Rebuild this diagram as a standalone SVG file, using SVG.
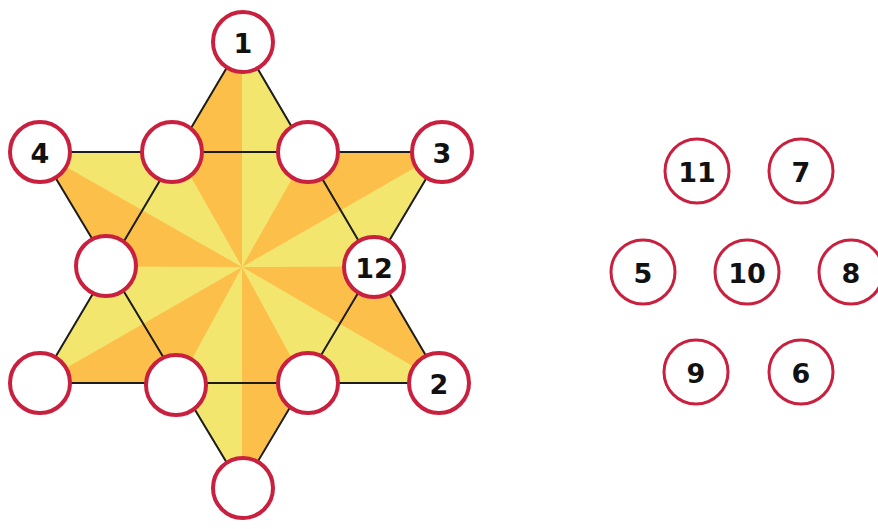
<svg xmlns="http://www.w3.org/2000/svg" width="878" height="529" viewBox="0 0 878 529">
<style>
.y{fill:#f3e66f}
.o{fill:#fcc04a}
.edge{fill:none;stroke:#1c1c1c;stroke-width:2;stroke-linejoin:miter}
.n{fill:#ffffff;stroke:#c8203e;stroke-width:4}
.m{fill:#ffffff;stroke:#c8203e;stroke-width:3}
.t{font-family:"DejaVu Sans",Verdana,sans-serif;font-weight:bold;font-size:27px;fill:#111111;text-anchor:middle;dominant-baseline:central}
</style>
<rect width="878" height="529" fill="#ffffff"/>
<g id="star-fill">
<polygon class="y" points="242,42 307.2,152 442,152 375.1,266.6 442,383 305.1,383 242,488 178.9,383 40,383 108.9,266.6 40,152 176.8,152"/>
<polygon class="o" points="242,267 307.2,152 442,152"/>
<polygon class="o" points="242,267 375.1,266.6 442,383"/>
<polygon class="o" points="242,267 305.1,383 242,488"/>
<polygon class="o" points="242,267 178.9,383 40,383"/>
<polygon class="o" points="242,267 108.9,266.6 40,152"/>
<polygon class="o" points="242,267 176.8,152 242,42"/>
</g>
<g id="connectors">
<polygon class="edge" points="242,42 442,383 40,383"/>
<polygon class="edge" points="40,152 442,152 242,488"/>
</g>
<g id="node-1"><circle class="n" cx="243" cy="42" r="30"/><text class="t" x="243" y="43">1</text></g>
<g id="node-4"><circle class="n" cx="40" cy="152" r="30"/><text class="t" x="40" y="153">4</text></g>
<g id="node-3"><circle class="n" cx="442" cy="152" r="30"/><text class="t" x="442" y="153">3</text></g>
<g id="node-inner-tl"><circle class="n" cx="172" cy="152" r="30"/></g>
<g id="node-inner-tr"><circle class="n" cx="308" cy="152" r="30"/></g>
<g id="node-inner-l"><circle class="n" cx="106" cy="266" r="30"/></g>
<g id="node-12"><circle class="n" cx="374" cy="267" r="30"/><text class="t" x="374" y="268">12</text></g>
<g id="node-bl"><circle class="n" cx="40" cy="383" r="30"/></g>
<g id="node-inner-bl"><circle class="n" cx="176" cy="385" r="30"/></g>
<g id="node-inner-br"><circle class="n" cx="308" cy="383" r="30"/></g>
<g id="node-2"><circle class="n" cx="439" cy="383" r="30"/><text class="t" x="439" y="384">2</text></g>
<g id="node-bottom"><circle class="n" cx="243" cy="488" r="30"/></g>
<g id="node-11"><circle class="m" cx="697" cy="171" r="32"/><text class="t" x="697" y="172">11</text></g>
<g id="node-7"><circle class="m" cx="801" cy="171" r="32"/><text class="t" x="801" y="172">7</text></g>
<g id="node-5"><circle class="m" cx="643" cy="272" r="32"/><text class="t" x="643" y="273">5</text></g>
<g id="node-10"><circle class="m" cx="747" cy="272" r="32"/><text class="t" x="747" y="273">10</text></g>
<g id="node-8"><circle class="m" cx="851" cy="272" r="32"/><text class="t" x="851" y="273">8</text></g>
<g id="node-9"><circle class="m" cx="696" cy="372" r="32"/><text class="t" x="696" y="373">9</text></g>
<g id="node-6"><circle class="m" cx="801" cy="372" r="32"/><text class="t" x="801" y="373">6</text></g>
</svg>
